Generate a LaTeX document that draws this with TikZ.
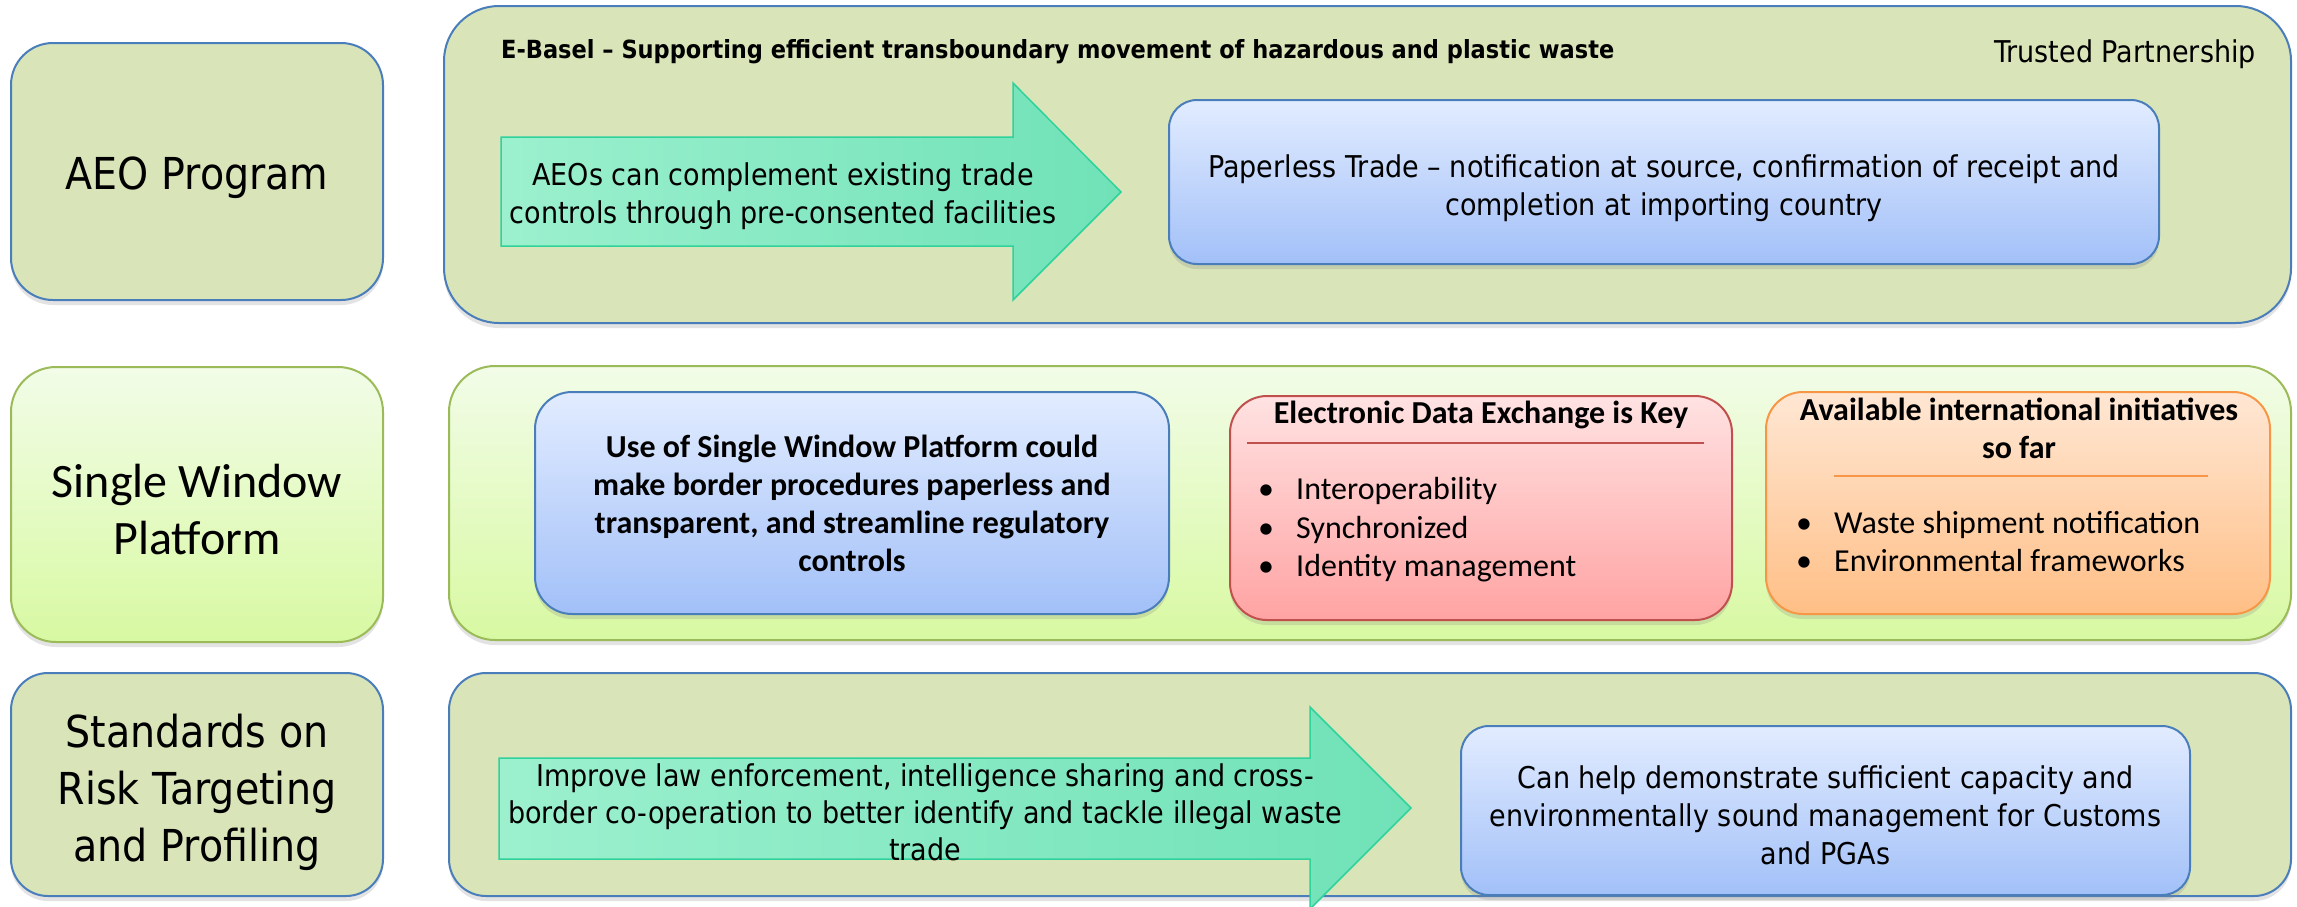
\documentclass[tikz,border=0pt]{standalone}
\usepackage{fontspec}
\newfontfamily\tahfont[FakeStretch=0.9]{DejaVu Sans}
\newfontfamily\calfont{Carlito}
\usetikzlibrary{shadows}
\definecolor{olive}{HTML}{D9E4B9}
\definecolor{blueedge}{HTML}{4A7EBB}
\definecolor{greenedge}{HTML}{9BBB59}
\definecolor{swtop}{HTML}{F2FCE8}
\definecolor{swbot}{HTML}{D8F9A2}
\definecolor{bltop}{HTML}{E2ECFF}
\definecolor{blbot}{HTML}{A2C0F8}
\definecolor{rdtop}{HTML}{FFE2E2}
\definecolor{rdbot}{HTML}{FFA3A3}
\definecolor{rdedge}{HTML}{C0504D}
\definecolor{ortop}{HTML}{FFE7D4}
\definecolor{orbot}{HTML}{FFBF86}
\definecolor{oredge}{HTML}{F79646}
\definecolor{arleft}{HTML}{9CF0CE}
\definecolor{arright}{HTML}{70E2B8}
\definecolor{aredge}{HTML}{30D29C}
\tikzset{
  shadowed/.style={drop shadow={opacity=0.22, shadow xshift=0pt, shadow yshift=-5pt}},
  box/.style={rectangle, inner sep=0pt, line width=2pt, shadowed, align=center},
  olivebox/.style={box, fill=olive, draw=blueedge},
  swbox/.style={box, top color=swtop, bottom color=swbot, draw=greenedge},
  bluebox/.style={box, top color=bltop, bottom color=blbot, draw=blueedge},
  redbox/.style={box, top color=rdtop, bottom color=rdbot, draw=rdedge},
  orbox/.style={box, top color=ortop, bottom color=orbot, draw=oredge},
  arrowshape/.style={draw=aredge, line width=1.5pt, left color=arleft, right color=arright, line join=miter},
  tahbody/.style={font=\tahfont\fontsize{30}{38}\selectfont, align=center, inner sep=0pt},
  tahbig/.style={font=\tahfont\fontsize{44}{57}\selectfont, align=center, inner sep=0pt},
  calbig/.style={font=\calfont\fontsize{48}{57}\selectfont, align=center, inner sep=0pt},
  calbold/.style={font=\calfont\bfseries\fontsize{32}{38}\selectfont, align=center, inner sep=0pt},
  calreg/.style={font=\calfont\fontsize{32}{38}\selectfont, inner sep=0pt},
  sepline/.style={line width=2pt}
}
\begin{document}
\begin{tikzpicture}[x=1pt,y=-1pt]
\useasboundingbox (0,0) rectangle (2297,906);
\fill[white] (0,0) rectangle (2297,906);

% ---- Row 1
\node[olivebox, minimum width=1847, minimum height=317, rounded corners=55] (panel1) at (1367.5,164.5) {};
\node[olivebox, minimum width=372, minimum height=257, rounded corners=42] (aeo) at (197,171.5) {};
\node[tahbig] (aeoT) at (197,178) {AEO Program};
\node[anchor=base west, inner sep=0pt, font=\tahfont\bfseries\fontsize{25}{30}\selectfont] (title) at (501,58) {E-Basel – Supporting efficient transboundary movement of hazardous and plastic waste};
\node[anchor=base east, inner sep=0pt, font=\tahfont\fontsize{30}{36}\selectfont] (trusted) at (2256,62) {Trusted Partnership};
\path[arrowshape] (501,137) -- (1013,137) -- (1013,83) -- (1121,192) -- (1013,300) -- (1013,246) -- (501,246) -- cycle;
\node[tahbody] (arr1) at (783,196) {AEOs can complement existing trade\\controls through pre-consented facilities};
\node[bluebox, minimum width=990, minimum height=164, rounded corners=28] (paperless) at (1664,182) {};
\node[tahbody] (paperlessT) at (1664,188) {Paperless Trade – notification at source, confirmation of receipt and\\completion at importing country};

% ---- Row 2
\node[swbox, minimum width=1842, minimum height=274, rounded corners=46] (panel2) at (1370,503) {};
\node[swbox, minimum width=372, minimum height=275, rounded corners=45] (sw) at (197,504.5) {};
\node[calbig] (swT) at (197,509) {Single Window\\Platform};
\node[bluebox, minimum width=634, minimum height=222, rounded corners=37, calbold] (useof) at (852,503) {Use of Single Window Platform could\\make border procedures paperless and\\transparent, and streamline regulatory\\controls};
\node[redbox, minimum width=502, minimum height=224, rounded corners=37] (edx) at (1481,508) {};
\node[orbox, minimum width=504, minimum height=222, rounded corners=37] (avail) at (2018,503) {};
\node[calbold, anchor=base] (edxT) at (1481,423) {Electronic Data Exchange is Key};
\coordinate (rl1) at (1247,443);
\coordinate (rl2) at (1704,443);
\draw[sepline, draw=rdedge] (rl1) -- (rl2);
\node[calreg, anchor=base] (rb1) at (1266,499) {•};
\node[calreg, anchor=base west] (rt1) at (1296,499) {Interoperability};
\node[calreg, anchor=base] (rb2) at (1266,538) {•};
\node[calreg, anchor=base west] (rt2) at (1296,538) {Synchronized};
\node[calreg, anchor=base] (rb3) at (1266,576) {•};
\node[calreg, anchor=base west] (rt3) at (1296,576) {Identity management};
\node[calbold] (availT) at (2019,428) {Available international initiatives\\so far};
\coordinate (ol1) at (1834,476);
\coordinate (ol2) at (2208,476);
\draw[sepline, draw=oredge] (ol1) -- (ol2);
\node[calreg, anchor=base] (ob1) at (1804,533) {•};
\node[calreg, anchor=base west] (ot1) at (1834,533) {Waste shipment notification};
\node[calreg, anchor=base] (ob2) at (1804,571) {•};
\node[calreg, anchor=base west] (ot2) at (1834,571) {Environmental frameworks};

% ---- Row 3
\node[olivebox, minimum width=1842, minimum height=223, rounded corners=37] (panel3) at (1370,784.5) {};
\node[olivebox, minimum width=372, minimum height=223, rounded corners=37] (std) at (197,784.5) {};
\node[tahbig] (stdT) at (197,792) {Standards on\\Risk Targeting\\and Profiling};
\path[arrowshape] (499,758) -- (1310,758) -- (1310,707) -- (1411,808) -- (1310,909) -- (1310,859) -- (499,859) -- cycle;
\node[tahbody, font=\tahfont\fontsize{30}{37}\selectfont] (arr3) at (925,812) {Improve law enforcement, intelligence sharing and cross-\\border co-operation to better identify and tackle illegal waste\\trade};
\node[bluebox, minimum width=729, minimum height=169, rounded corners=28] (canhelp) at (1825.5,810.5) {};
\node[tahbody] (canhelpT) at (1825.5,815) {Can help demonstrate sufficient capacity and\\environmentally sound management for Customs\\and PGAs};
\end{tikzpicture}
\end{document}
